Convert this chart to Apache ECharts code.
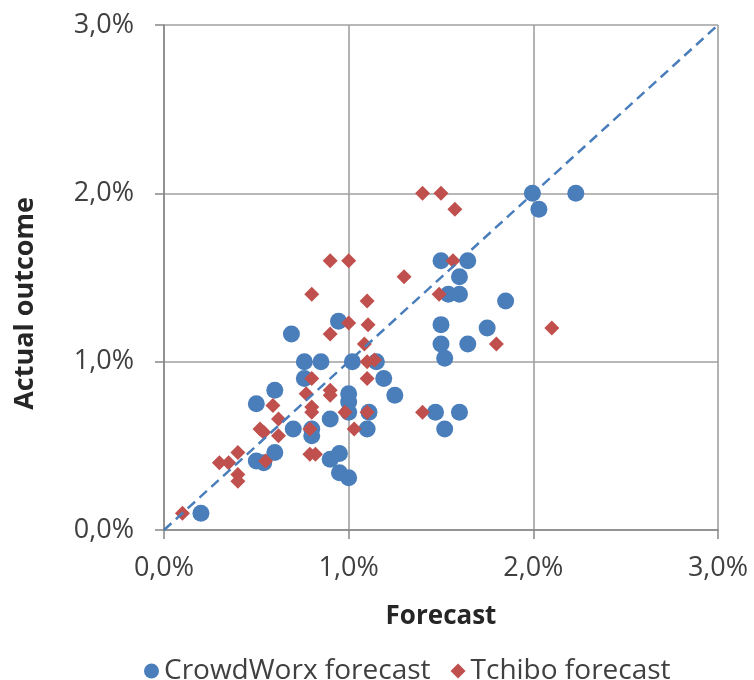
<!DOCTYPE html>
<html><head><meta charset="utf-8">
<script src="https://cdn.jsdelivr.net/npm/echarts@6/dist/echarts.min.js"></script>
<style>html,body{margin:0;padding:0;background:#fff}#c{width:754px;height:680px}</style>
</head><body><div id="c"></div>
<script>
// Forecast (x, %) and actual outcome (y, %)
const crowdX = [0.20,0.50,0.60,0.50,0.54,0.60,0.69,0.70,0.76,0.85,0.76,0.80,0.80,0.90,0.90,0.95,0.95,1.00,0.945,1.00,1.00,1.00,1.02,1.15,1.11,1.10,1.19,1.25,1.47,1.52,1.52,1.50,1.50,1.50,1.645,1.60,1.54,1.60,1.645,1.60,1.75,1.85,1.995,2.03,2.23];
const crowdY = [0.10,0.75,0.83,0.41,0.40,0.46,1.165,0.60,1.00,1.00,0.90,0.56,0.60,0.66,0.42,0.455,0.34,0.31,1.24,0.81,0.76,0.70,1.00,1.00,0.70,0.60,0.90,0.80,0.70,0.60,1.02,1.105,1.22,1.60,1.60,1.505,1.40,1.40,1.105,0.70,1.20,1.36,2.00,1.905,2.00];
const tchiboX = [0.10,0.30,0.35,0.40,0.40,0.40,0.52,0.54,0.55,0.59,0.62,0.62,0.80,0.80,0.77,0.80,0.80,0.79,0.79,0.82,0.90,0.90,0.90,0.90,1.00,1.00,0.98,1.03,1.085,1.10,1.105,1.10,1.14,1.10,1.10,1.30,1.40,1.50,1.575,1.565,1.49,1.40,1.80,2.10];
const tchiboY = [0.10,0.40,0.40,0.46,0.33,0.29,0.60,0.58,0.41,0.74,0.66,0.56,1.40,0.90,0.81,0.73,0.70,0.60,0.45,0.45,1.60,1.165,0.83,0.80,1.60,1.23,0.70,0.60,1.105,1.36,1.22,1.00,1.01,0.90,0.70,1.505,2.00,2.00,1.905,1.60,1.40,0.70,1.105,1.20];
const diagX = [0, 3];
const diagY = [0, 3];
const axisTicks = [0, 1, 2, 3];
const seriesNames = ['CrowdWorx forecast', 'Tchibo forecast'];

const zip = (a, b) => a.map((v, i) => [v, b[i]]);
const fmt = v => v.toFixed(1).replace('.', ',') + '%';
const font = "'Open Sans', sans-serif";
const blue = '#4A7EBB', red = '#C0504D';

const axisCommon = {
  type: 'value', min: axisTicks[0], max: axisTicks[axisTicks.length - 1], interval: 1,
  axisLine: { show: true, lineStyle: { color: '#868686', width: 1.5 } },
  axisTick: { show: true, length: 9, lineStyle: { color: '#868686', width: 1.5 } },
  splitLine: { show: true, lineStyle: { color: '#a0a0a0', width: 1.6 } },
  axisLabel: { formatter: fmt, fontFamily: font, fontSize: 27, color: '#404040' }
};

const chart = echarts.init(document.getElementById('c'), null, { renderer: 'canvas' });
chart.setOption({
  animation: false,
  backgroundColor: '#fff',
  grid: { left: 164, right: 36, top: 25, bottom: 150 },
  xAxis: Object.assign({}, axisCommon, {
    name: 'Forecast', nameLocation: 'middle', nameGap: 74,
    nameTextStyle: { fontFamily: font, fontSize: 26, fontWeight: 'bold', color: '#262626' },
    axisLabel: Object.assign({}, axisCommon.axisLabel, { margin: 25 })
  }),
  yAxis: Object.assign({}, axisCommon, {
    axisLabel: Object.assign({}, axisCommon.axisLabel, { margin: 30 })
  }),
  graphic: [{
    type: 'text', left: 12, top: 197, rotation: Math.PI / 2,
    style: { text: 'Actual outcome', fontFamily: font, fontSize: 27, fontWeight: 'bold', fill: '#262626' }
  }],
  legend: {
    data: [{ name: seriesNames[0], icon: 'circle' }, { name: seriesNames[1], icon: 'diamond' }],
    left: 139, top: 652, itemWidth: 15, itemHeight: 15, itemGap: 20,
    textStyle: { fontFamily: font, fontSize: 28, color: '#404040' }
  },
  series: [
    { name: seriesNames[0], type: 'scatter', symbol: 'circle', symbolSize: 17,
      itemStyle: { color: blue, opacity: 1 }, data: zip(crowdX, crowdY), z: 2 },
    { name: seriesNames[1], type: 'scatter', symbol: 'diamond', symbolSize: 15,
      itemStyle: { color: red, opacity: 1 }, data: zip(tchiboX, tchiboY), z: 3 },
    { name: 'diag', type: 'line', showSymbol: false, symbol: 'none', silent: true,
      lineStyle: { color: blue, width: 2.5, type: [10, 6] }, data: zip(diagX, diagY), z: 4 }
  ]
});
</script></body></html>
